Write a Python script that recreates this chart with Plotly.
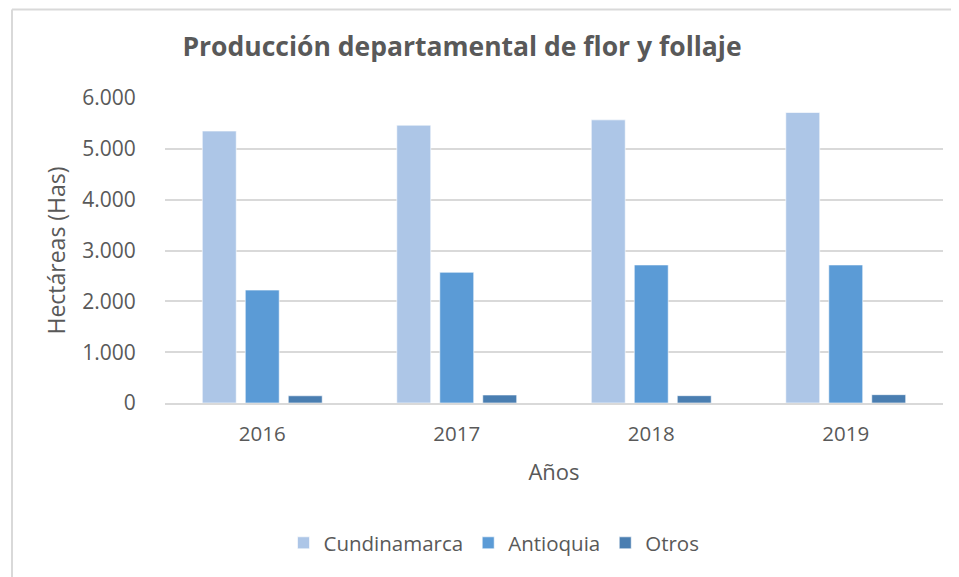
import plotly.graph_objects as go

years = ["2016", "2017", "2018", "2019"]
cundinamarca = [5350, 5465, 5570, 5715]
antioquia = [2222, 2572, 2716, 2716]
otros = [142, 158, 144, 164]
series_names = ["Cundinamarca", "Antioquia", "Otros"]
colors = ["#adc6e7", "#5b9bd6", "#4a7eb1"]
y_ticks = [0, 1000, 2000, 3000, 4000, 5000, 6000]

FONT = "Open Sans, Noto Sans, sans-serif"
TXT = "#595959"

fig = go.Figure()
for name, vals, col in zip(series_names, [cundinamarca, antioquia, otros], colors):
    fig.add_trace(go.Bar(
        x=years, y=vals, name=name,
        marker=dict(color=col, line=dict(color="rgba(255,255,255,0.6)", width=1)),
    ))

OFF = 8  # page body margin
W, H = 959 - OFF, 577 - OFF
L, T = 165 - OFF, 98 - OFF
R = W - (943 - OFF)
B = H - (403 - OFF)
pw = W - L - R
ph = H - T - B

def px_x(x):
    return (x - OFF - L) / pw

def px_y(y):
    return (H - B - (y - OFF)) / ph

border = dict(color="#d9d9d9", width=2)

fig.update_layout(
    width=W, height=H,
    margin=dict(l=L, r=R, t=T, b=B, pad=0),
    paper_bgcolor="white", plot_bgcolor="white",
    separators=",.",
    barmode="group", bargap=0.337, bargroupgap=0.21,
    font=dict(family=FONT, color=TXT, size=20),
    title=dict(text="<b>Producción departamental de flor y follaje</b>",
               x=(462 - OFF) / W, xanchor="center", y=1 - (47 - OFF) / H, yanchor="middle",
               font=dict(family=FONT, size=26.5, color=TXT)),
    showlegend=True,
    legend=dict(orientation="h", x=px_x(494), xanchor="center",
                y=px_y(543), yanchor="middle",
                font=dict(family=FONT, size=20.5, color=TXT),
                itemwidth=30, traceorder="normal"),
    xaxis=dict(
        type="category", range=[-0.5, 3.5],
        showgrid=False, showline=True, linecolor="#d9d9d9", linewidth=1.5,
        ticks="outside", ticklen=12, tickcolor="rgba(0,0,0,0)",
        tickfont=dict(size=20.5, color=TXT),
        title=dict(text="Años", font=dict(size=22, color=TXT), standoff=18),
    ),
    yaxis=dict(
        range=[0, 6000], tickvals=y_ticks, tickformat=",d",
        showgrid=True, gridcolor="#d9d9d9", gridwidth=1.5,
        zeroline=False, showline=False,
        ticks="outside", ticklen=24, tickcolor="rgba(0,0,0,0)",
        tickfont=dict(size=21, color=TXT),
        title=dict(text="Hectáreas (Has)", font=dict(size=23, color=TXT), standoff=10),
    ),
    shapes=[
        dict(type="line", xref="paper", yref="paper",
             x0=px_x(12), x1=px_x(12), y0=px_y(577), y1=px_y(OFF + 1.5),
             line=border, layer="below"),
        dict(type="line", xref="paper", yref="paper",
             x0=px_x(12), x1=px_x(959), y0=px_y(OFF + 1.5), y1=px_y(OFF + 1.5),
             line=border, layer="below"),
    ],
)

fig.write_html("out.html")
